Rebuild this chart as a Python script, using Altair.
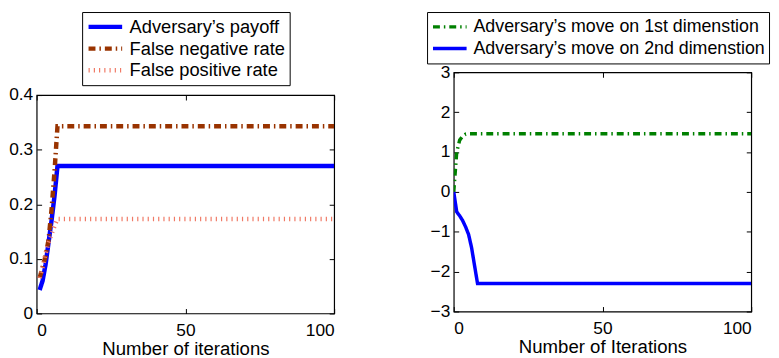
import altair as alt
import pandas as pd

# ---------------- data ----------------
left_series = ["Adversary’s payoff", "False negative rate", "False positive rate"]
left_iters = [1, 2, 3, 4, 5, 6, 7, 100]
payoff = [0.043, 0.06, 0.09, 0.13, 0.17, 0.215, 0.27, 0.27]
fn_rate = [0.065, 0.085, 0.105, 0.135, 0.19, 0.26, 0.343, 0.343]
fp_rate = [0.065, 0.085, 0.11, 0.13, 0.145, 0.16, 0.173, 0.173]

right_series = ["Adversary’s move on 1st dimenstion", "Adversary’s move on 2nd dimenstion"]
right_iters = [0, 1, 2, 3, 4, 5, 6, 7, 8, 100]
move1 = [0.0, 1.0, 1.3, 1.4, 1.45, 1.46, 1.46, 1.46, 1.46, 1.46]
move2 = [0.0, -0.5, -0.6, -0.72, -0.88, -1.07, -1.4, -1.85, -2.3, -2.3]

left_x_ticks = [0, 50, 100]
left_y_ticks = [0, 0.1, 0.2, 0.3, 0.4]
right_x_ticks = [0, 50, 100]
right_y_ticks = [-3, -2, -1, 0, 1, 2, 3]

# ---------------- tables ----------------
rows = []
for name, vals in zip(left_series, [payoff, fn_rate, fp_rate]):
    for i, v in zip(left_iters, vals):
        rows.append({"iter": i, "value": v, "series": name})
ldf = pd.DataFrame(rows)

rows = []
for name, vals in zip(right_series, [move1, move2]):
    for i, v in zip(right_iters, vals):
        rows.append({"iter": i, "value": v, "series": name})
rdf = pd.DataFrame(rows)

FONT = "Liberation Sans"


def legend(x, y, fs):
    return alt.Legend(
        orient="none", legendX=x, legendY=y, title=None,
        symbolType="stroke", symbolSize=1156, labelFontSize=fs, labelFont=FONT,
        labelColor="black", strokeColor="black", fillColor="white",
        padding=4, labelOffset=5, rowPadding=0, clipHeight=22, labelLimit=400,
    )


def panel(df, series, colors, dashes, widths, xdom, ydom, xticks, yticks, xtitle,
          w, h, lx, ly, lfs):
    xs = alt.Scale(domain=xdom, nice=False, zero=False)
    ys = alt.Scale(domain=ydom, nice=False, zero=False)
    lg = legend(lx, ly, lfs)
    base = alt.Chart(df)
    lines = base.mark_line(clip=True, strokeCap="butt").encode(
        x=alt.X("iter:Q", scale=xs, axis=alt.Axis(
            orient="bottom", values=xticks, offset=-5, tickSize=5, labelPadding=8,
            title=xtitle, titlePadding=1, domain=False, grid=False, format="~r")),
        y=alt.Y("value:Q", scale=ys, axis=alt.Axis(
            orient="left", values=yticks, offset=-5, tickSize=5, labelPadding=4,
            title=None, domain=False, grid=False, format="~r")),
        color=alt.Color("series:N", scale=alt.Scale(domain=series, range=colors), legend=lg),
        strokeDash=alt.StrokeDash("series:N", scale=alt.Scale(domain=series, range=dashes), legend=lg),
        strokeWidth=alt.StrokeWidth("series:N", scale=alt.Scale(domain=series, range=widths), legend=lg),
    )
    mirror = base.mark_line(opacity=0).encode(
        x=alt.X("iter:Q", scale=xs, axis=alt.Axis(
            orient="top", values=xticks, offset=-5, tickSize=5, labels=False,
            title=None, domain=False, grid=False)),
        y=alt.Y("value:Q", scale=ys, axis=alt.Axis(
            orient="right", values=yticks, offset=-5, tickSize=5, labels=False,
            title=None, domain=False, grid=False)),
    )
    return alt.layer(lines, mirror).resolve_axis(x="independent", y="independent").properties(
        width=w, height=h)


left = panel(
    ldf, left_series,
    ["#0000ff", "#993300", "#f07a66"],
    [[1, 0], [7, 4, 1.5, 4], [1.2, 4.1]],
    [4.5, 4.5, 4],
    [0, 100], [0, 0.4], left_x_ticks, left_y_ticks, "Number of iterations",
    301, 221, 46, -61, 18.5,
)
right = panel(
    rdf, right_series,
    ["#008000", "#0000ff"],
    [[7, 4, 1.5, 4], [1, 0]],
    [3.5, 3.5],
    [0, 100], [-3, 3], right_x_ticks, right_y_ticks, "Number of Iterations",
    301, 242, -27, -61, 18,
)

# empty, invisible block that lowers the left panel so both panels share a bottom edge
spacer = alt.Chart(pd.DataFrame({"a": [0]})).mark_point(opacity=0, size=0).encode(
    x=alt.value(0), y=alt.value(0)
).properties(width=301, height=11.5, view=alt.ViewBackground(stroke="transparent"))

left_col = alt.vconcat(spacer, left, spacing=0)

chart = alt.hconcat(left_col, right, spacing=90).resolve_scale(
    color="independent", strokeDash="independent", strokeWidth="independent"
).properties(padding=0).configure_view(
    stroke="black", strokeWidth=1.2
).configure_axis(
    labelFont=FONT, labelFontSize=17.5, labelColor="black",
    titleFont=FONT, titleFontSize=18.8, titleColor="black", titleFontWeight="normal",
    tickColor="black", tickWidth=1,
)

chart.save("out.html", embed_options={"renderer": "svg", "actions": False})
